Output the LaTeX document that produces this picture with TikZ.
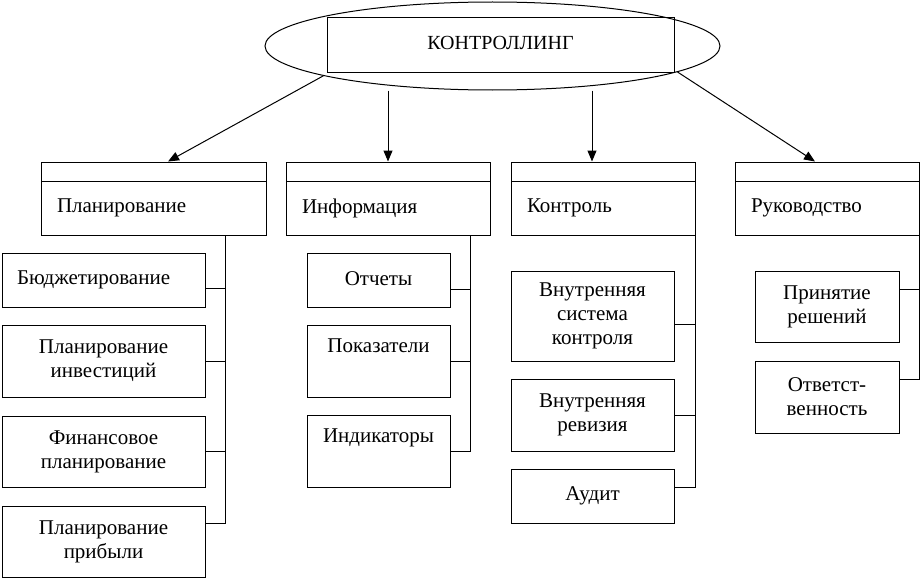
\documentclass[tikz,border=0pt]{standalone}
\usepackage{fontspec}
\setmainfont{Liberation Serif}
\usetikzlibrary{arrows.meta,shapes.geometric,calc}
\begin{document}
\begin{tikzpicture}[x=1pt,y=-1pt,
  every node/.style={font=\fontsize{21}{24}\selectfont},
  line/.style={draw,line width=1pt},
  arr/.style={line,-{Triangle[length=11pt,width=9pt]}},
  box/.style={draw,line width=1pt,rectangle,inner sep=0pt,align=center},
  leftbox/.style={draw,line width=1pt,rectangle,inner ysep=0pt,inner xsep=16pt,align=left,text width=#1},
  cbox1/.style={box,minimum width=203},
  cbox2/.style={box,minimum width=143},
  cbox3/.style={box,minimum width=163},
  cbox4/.style={box,minimum width=144}]
\useasboundingbox (0,0) rectangle (920,578);

% top
\node[ellipse,draw,line width=1pt,minimum width=455,minimum height=88,inner sep=0pt] (ell) at (492.5,46) {};
\node[box,minimum width=347,minimum height=54] (top) at (500.5,45) {\raisebox{4pt}{\fontsize{20}{24}\selectfont КОНТРОЛЛИНГ}};

% category boxes
\node[box,minimum width=225,minimum height=19] (c1t) at (153.5,171.5) {};
\node[leftbox=193,minimum height=54] (c1) at (153.5,208) {\raisebox{3pt}{Планирование}};
\node[box,minimum width=204,minimum height=19] (c2t) at (388,171.5) {};
\node[leftbox=172,minimum height=54] (c2) at (388,208) {\raisebox{3pt}{Информация}};
\node[box,minimum width=184,minimum height=19] (c3t) at (603,171.5) {};
\node[leftbox=152,minimum height=54] (c3) at (603,208) {\raisebox{3pt}{Контроль}};
\node[box,minimum width=184,minimum height=19] (c4t) at (827,171.5) {};
\node[leftbox=152,minimum height=54] (c4) at (827,208) {\raisebox{3pt}{Руководство}};

% arrows
\coordinate (a1) at ([xshift=14.5pt]c1t.north);
\coordinate (a3) at ([xshift=-11pt]c3t.north);
\coordinate (a4) at ([xshift=-12pt]c4t.north);
\draw[arr] (ell.190) -- (a1);
\draw[arr] (c2t.north |- ell.south) -- (c2t.north);
\draw[arr] (a3 |- ell.south) -- (a3);
\draw[arr] (ell.-8) -- (a4);

% spines
\coordinate (s1) at ([xshift=-41pt]c1.south east);
\coordinate (s2) at ([xshift=-20pt]c2.south east);
\coordinate (s3) at (c3.south east);
\coordinate (s4) at (c4.south east);

% column 1
\node[draw,line width=1pt,rectangle,inner ysep=0pt,inner xsep=15pt,align=left,text width=173,minimum height=54] (b11) at (103.5,280) {\raisebox{3pt}{Бюджетирование}};
\node[cbox1,minimum height=72] (b12) at (103.5,361) {Планирование\\инвестиций};
\node[cbox1,minimum height=71] (b13) at (103.5,451.5) {Финансовое\\планирование};
\node[cbox1,minimum height=71] (b14) at (103.5,541.5) {Планирование\\прибыли};
\draw[line] ([yshift=-8pt]b11.east) -| (s1);
\draw[line] (b12.east) -| (s1);
\draw[line] (b13.east) -| (s1);
\draw[line] ([yshift=18.5pt]b14.east) -| (s1);

% column 2
\node[cbox2,minimum height=54] (b21) at (378.5,280) {\raisebox{3pt}{Отчеты}};
\node[cbox2,minimum height=72] (b22) at (378.5,361) {Показатели\\\strut};
\node[cbox2,minimum height=72] (b23) at (378.5,451) {Индикаторы\\\strut};
\draw[line] ([yshift=-9pt]b21.east) -| (s2);
\draw[line] (b22.east) -| (s2);
\draw[line] (b23.east) -| (s2);

% column 3
\node[cbox3,minimum height=90] (b31) at (592.5,316) {Внутренняя\\система\\контроля};
\node[cbox3,minimum height=72] (b32) at (592.5,415) {Внутренняя\\ревизия};
\node[cbox3,minimum height=54] (b33) at (592.5,496) {\raisebox{3pt}{Аудит}};
\draw[line] ([yshift=-8pt]b31.east) -| (s3);
\draw[line] (b32.east) -| (s3);
\draw[line] ([yshift=9pt]b33.east) -| (s3);

% column 4
\node[cbox4,minimum height=71] (b41) at (827,306.5) {Принятие\\решений};
\node[cbox4,minimum height=72] (b42) at (827,397) {Ответст-\\венность};
\draw[line] ([yshift=17.5pt]b41.east) -| (s4);
\draw[line] ([yshift=18pt]b42.east) -| (s4);
\end{tikzpicture}
\end{document}
